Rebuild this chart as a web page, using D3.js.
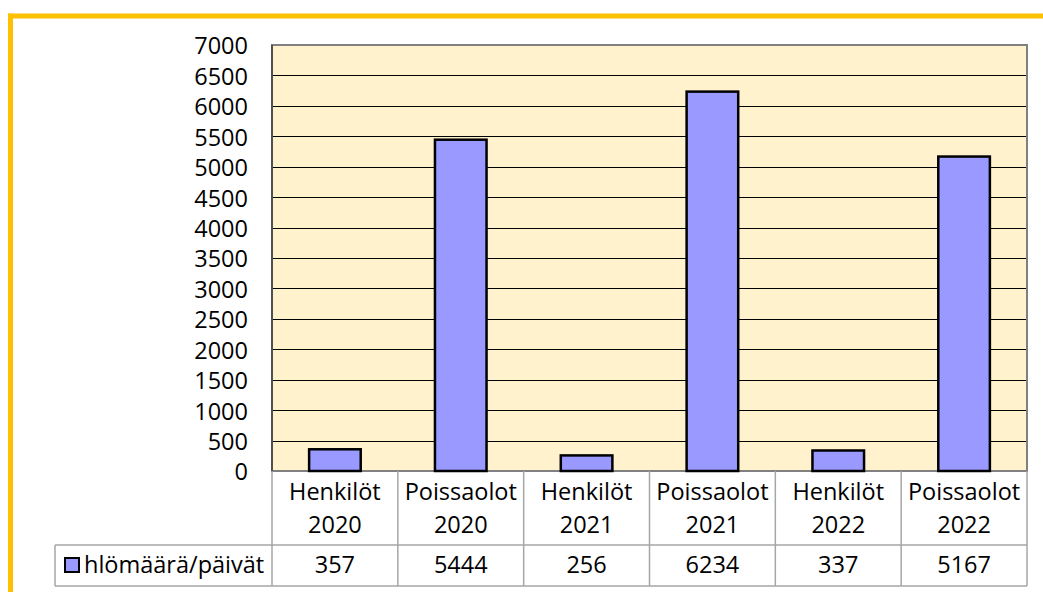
<!DOCTYPE html>
<html><head><meta charset="utf-8">
<script src="https://cdn.jsdelivr.net/npm/d3@7"></script>
<style>html,body{margin:0;padding:0;background:#fff;}svg{display:block;}</style>
</head><body>
<svg id="c" width="1043" height="592"></svg>
<script>
const categories = [["Henkilöt","2020"],["Poissaolot","2020"],["Henkilöt","2021"],["Poissaolot","2021"],["Henkilöt","2022"],["Poissaolot","2022"]];
const values = [357, 5444, 256, 6234, 337, 5167];
const seriesName = "hlömäärä/päivät";
const yTicks = [0,500,1000,1500,2000,2500,3000,3500,4000,4500,5000,5500,6000,6500,7000];

const svg = d3.select("#c");
const font = "'Open Sans', 'Noto Sans', sans-serif";
const fs = 23.5;
const L = 272, R = 1027, T = 45, B = 471;
const row1 = 545, row2 = 586, legendLeft = 55;

// frame
svg.append("line").attr("x1",8).attr("x2",1043).attr("y1",16).attr("y2",16).attr("stroke","#FFC000").attr("stroke-width",5);
svg.append("line").attr("x1",10.5).attr("x2",10.5).attr("y1",13.5).attr("y2",592).attr("stroke","#FFC000").attr("stroke-width",5);

const x = d3.scaleBand().domain(d3.range(categories.length)).range([L,R]).paddingInner(0).paddingOuter(0);
const y = d3.scaleLinear().domain([0,7000]).range([B,T]);

svg.append("rect").attr("x",L).attr("y",T).attr("width",R-L).attr("height",B-T).attr("fill","#FFF2CC");

// gridlines
svg.append("g").selectAll("line").data(yTicks.filter(d=>d>0 && d<7000)).join("line")
  .attr("x1",L).attr("x2",R).attr("y1",d=>Math.round(y(d))+0.5).attr("y2",d=>Math.round(y(d))+0.5)
  .attr("stroke","#000").attr("stroke-width",1);

// plot border
svg.append("rect").attr("x",L).attr("y",T).attr("width",R-L).attr("height",B-T).attr("fill","none").attr("stroke","#808080").attr("stroke-width",2);
svg.append("line").attr("x1",L).attr("x2",L).attr("y1",T).attr("y2",B).attr("stroke","#505050").attr("stroke-width",2);

// bars
const bw = x.bandwidth()*0.41;
svg.append("g").selectAll("rect").data(values).join("rect")
  .attr("x",(d,i)=>x(i)+x.bandwidth()/2-bw/2).attr("width",bw)
  .attr("y",d=>y(d)).attr("height",d=>B-y(d))
  .attr("fill","#9999FF").attr("stroke","#000").attr("stroke-width",2.5);

// y axis labels
const yAxis = d3.axisLeft(y).tickValues(yTicks).tickSize(0).tickPadding(0).tickFormat(d3.format("d"));
const ya = svg.append("g").attr("transform",`translate(248,0)`).call(yAxis);
ya.select(".domain").remove();
ya.selectAll("text").attr("font-family",font).attr("font-size",fs).attr("fill","#000").attr("dy","0.38em");

// table lines
const tcol = "#A6A6A6";
const tg = svg.append("g").attr("stroke",tcol).attr("stroke-width",1.5);
d3.range(categories.length+1).forEach(i=>{
  const xx = i<categories.length ? x(i) : R;
  tg.append("line").attr("x1",xx).attr("x2",xx).attr("y1",B).attr("y2",row2);
});
tg.append("line").attr("x1",legendLeft).attr("x2",R).attr("y1",row1).attr("y2",row1);
tg.append("line").attr("x1",legendLeft).attr("x2",R).attr("y1",row2).attr("y2",row2);
tg.append("line").attr("x1",legendLeft).attr("x2",legendLeft).attr("y1",row1).attr("y2",row2);

// category labels
const cg = svg.append("g").attr("font-family",font).attr("font-size",fs).attr("fill","#000").attr("text-anchor","middle");
categories.forEach((c,i)=>{
  const cx = x(i)+x.bandwidth()/2;
  cg.append("text").attr("x",cx).attr("y",500).text(c[0]);
  cg.append("text").attr("x",cx).attr("y",533).text(c[1]);
  cg.append("text").attr("x",cx).attr("y",573).text(values[i]);
});

// legend
svg.append("rect").attr("x",65).attr("y",558).attr("width",14).attr("height",14).attr("fill","#9999FF").attr("stroke","#000").attr("stroke-width",2);
svg.append("text").attr("x",84).attr("y",573).attr("font-family",font).attr("font-size",fs).attr("fill","#000").text(seriesName);
</script>
</body></html>
